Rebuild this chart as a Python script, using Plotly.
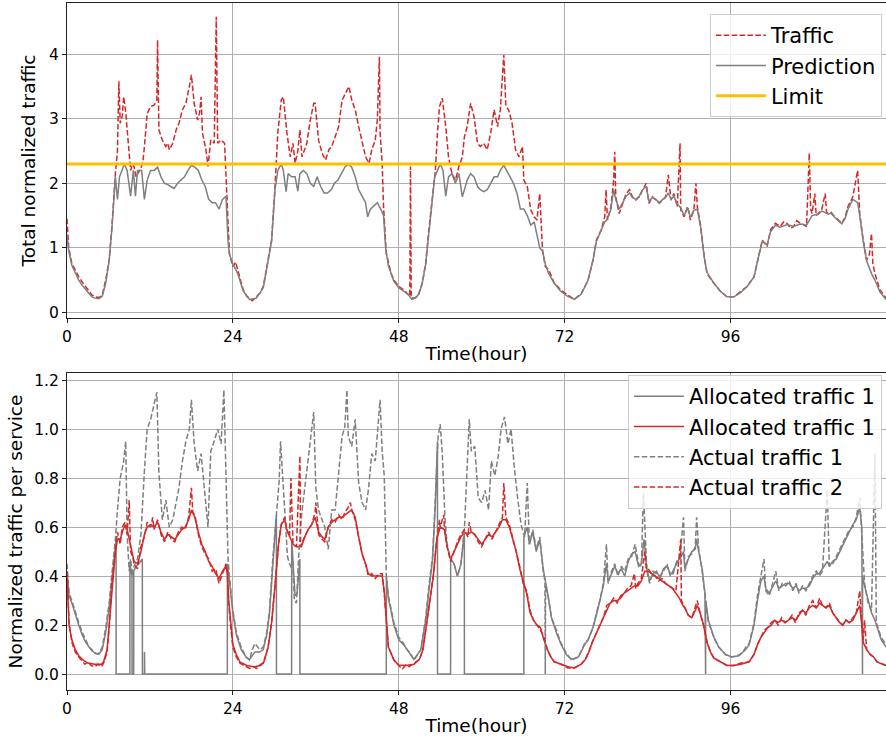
import plotly.graph_objects as go

# ---------------- data (hour, value) ----------------
traffic = [
    (0.0, 1.45), (0.25, 1.0), (0.7, 0.76), (1.2, 0.65), (1.7, 0.55), (2.2, 0.47), (2.7, 0.40), (3.2, 0.32),
    (3.6, 0.27), (4.1, 0.24), (4.6, 0.23), (5.1, 0.27), (5.6, 0.50), (6.1, 0.81), (6.5, 1.33), (7.0, 2.15),
    (7.3, 2.5), (7.5, 3.58), (7.7, 2.93), (8.0, 3.05), (8.2, 3.34), (8.5, 3.1), (8.8, 2.7), (9.0, 2.4),
    (9.2, 2.2), (9.5, 2.3), (9.7, 2.26), (10.0, 2.1), (10.2, 2.15), (10.5, 2.2), (10.7, 2.23), (11.0, 2.35),
    (11.2, 2.57), (11.6, 3.08), (12.1, 3.19), (12.6, 3.21), (13.0, 3.29), (13.1, 4.22), (13.3, 2.83),
    (13.8, 2.67), (14.3, 2.57), (14.6, 2.62), (14.8, 2.52), (15.1, 2.58), (15.3, 2.62), (15.8, 2.83),
    (16.2, 2.93), (16.7, 3.14), (17.2, 3.24), (17.7, 3.5), (18.0, 3.68), (18.4, 3.24), (18.9, 2.98),
    (19.2, 3.1), (19.4, 3.34), (19.6, 2.78), (20.1, 2.52), (20.4, 2.26), (20.6, 2.5), (20.8, 2.67),
    (21.3, 2.62), (21.6, 4.58), (21.8, 2.62), (22.3, 2.67), (22.8, 2.62), (23.0, 2.15), (23.3, 1.22),
    (23.5, 0.91), (24.0, 0.71), (24.4, 0.78), (24.7, 0.66), (25.1, 0.5), (25.5, 0.35), (26.0, 0.25),
    (26.4, 0.22), (26.8, 0.18), (27.4, 0.24), (27.9, 0.3), (28.4, 0.40), (28.8, 0.66), (29.2, 0.85),
    (29.6, 1.12), (30.1, 1.95), (30.5, 2.78), (31.0, 3.29), (31.3, 3.34), (31.8, 2.8), (32.3, 2.41),
    (32.7, 2.62), (33.0, 2.31), (33.4, 2.5), (33.7, 2.83), (34.0, 2.41), (34.4, 2.55), (34.7, 2.62),
    (35.2, 2.98), (35.7, 3.24), (35.9, 3.24), (36.4, 2.67), (36.9, 2.47), (37.4, 2.36), (37.9, 2.52),
    (38.3, 2.57), (38.8, 2.72), (39.3, 2.88), (39.8, 3.29), (40.3, 3.4), (40.8, 3.5), (41.2, 3.29),
    (41.7, 3.14), (42.2, 2.88), (42.7, 2.62), (43.2, 2.41), (43.7, 2.31), (44.1, 2.52), (44.6, 2.67),
    (44.9, 2.98), (45.2, 3.96), (45.3, 2.78), (45.6, 2.31), (45.8, 1.64), (46.2, 0.91), (46.5, 0.76),
    (46.9, 0.6), (47.3, 0.50), (48.0, 0.40), (48.7, 0.35), (49.4, 0.27), (49.6, 0.25), (49.7, 2.26),
    (49.8, 0.22), (50.4, 0.22), (50.9, 0.29), (51.4, 0.45), (51.9, 0.76), (52.3, 1.22), (52.8, 1.74),
    (53.3, 2.2), (53.6, 2.78), (53.9, 3.19), (54.3, 3.32), (54.8, 2.88), (55.2, 2.41), (55.7, 2.15),
    (56.2, 2.05), (56.7, 2.26), (57.2, 2.41), (57.5, 2.72), (57.9, 2.88), (58.4, 3.24), (58.9, 3.03),
    (59.4, 2.62), (59.8, 2.57), (60.3, 2.62), (60.8, 2.52), (61.3, 2.78), (61.8, 3.14), (62.3, 2.88),
    (62.7, 3.14), (63.2, 3.99), (63.5, 3.19), (63.9, 3.14), (64.4, 2.93), (64.9, 2.52), (65.4, 2.41),
    (65.9, 2.57), (66.1, 2.05), (66.6, 1.95), (67.1, 1.59), (67.6, 1.48), (68.0, 1.43), (68.4, 1.84),
    (68.8, 0.97), (69.2, 0.71), (69.7, 0.66), (70.1, 0.55), (70.5, 0.45), (71.0, 0.4), (71.4, 0.35),
    (72.4, 0.27), (73.4, 0.2), (74.4, 0.29), (75.4, 0.5), (76.1, 0.81), (76.6, 1.12), (77.3, 1.28),
    (77.8, 1.48), (78.0, 1.9), (78.2, 1.43), (78.7, 1.64), (79.1, 2.05), (79.25, 2.49), (79.4, 1.79),
    (79.9, 1.53), (80.4, 1.69), (80.9, 1.84), (81.4, 1.9), (81.8, 1.79), (82.3, 1.74), (82.8, 1.79),
    (83.3, 1.9), (83.8, 2.0), (84.2, 1.69), (84.7, 1.79), (85.2, 1.74), (85.7, 1.69), (86.2, 1.74),
    (86.6, 1.79), (87.0, 2.13), (87.4, 1.74), (87.8, 1.84), (88.3, 1.64), (88.7, 2.62), (88.8, 1.59),
    (89.3, 1.48), (89.8, 1.64), (90.2, 1.43), (90.7, 1.59), (91.0, 2.0), (91.2, 1.64), (91.7, 1.33),
    (92.2, 0.86), (92.6, 0.6), (93.1, 0.52), (93.6, 0.45), (94.6, 0.32), (95.5, 0.24), (96.5, 0.24),
    (97.4, 0.32), (98.4, 0.4), (99.4, 0.55), (100.1, 0.91), (100.6, 1.12), (101.3, 1.02), (101.8, 1.28),
    (102.5, 1.38), (103.2, 1.33), (103.7, 1.4), (104.2, 1.38), (104.7, 1.3), (105.1, 1.33), (105.6, 1.42),
    (106.1, 1.38), (106.6, 1.36), (107.0, 1.33), (107.4, 2.47), (107.6, 1.6), (107.8, 1.53), (108.2, 1.84),
    (108.4, 1.5), (108.7, 1.53), (109.2, 1.59), (109.7, 1.84), (109.9, 1.55), (110.2, 1.53), (110.6, 1.53),
    (111.1, 1.48), (111.6, 1.43), (112.1, 1.38), (112.6, 1.48), (113.0, 1.64), (113.7, 1.79), (114.4, 2.2),
    (114.7, 1.53), (115.2, 1.12), (115.7, 0.81), (116.1, 0.9), (116.4, 1.22), (116.6, 0.75), (116.9, 0.6),
    (117.6, 0.35), (118.5, 0.22),
]

prediction = [
    (0.0, 1.2), (0.25, 0.95), (0.7, 0.73), (1.2, 0.6), (1.7, 0.5), (2.2, 0.42), (2.7, 0.35), (3.2, 0.28),
    (3.6, 0.24), (4.1, 0.22), (4.6, 0.21), (5.1, 0.25), (5.6, 0.45), (6.1, 0.8), (6.5, 1.3), (7.0, 2.1),
    (7.3, 1.75), (7.6, 2.1), (8.0, 2.2), (8.3, 2.3), (8.7, 2.2), (9.0, 2.0), (9.2, 1.8), (9.6, 2.2),
    (9.9, 1.8), (10.2, 2.2), (10.8, 2.2), (11.2, 1.75), (11.6, 2.05), (12.1, 2.2), (12.6, 2.2), (13.1, 2.25),
    (13.6, 2.1), (14.1, 2.0), (14.6, 1.98), (15.0, 1.95), (15.5, 1.92), (16.0, 2.0), (16.5, 2.05),
    (17.0, 2.1), (17.5, 2.2), (18.0, 2.28), (18.5, 2.25), (19.0, 2.2), (19.5, 2.05), (20.0, 1.95),
    (20.5, 1.75), (21.0, 1.7), (21.5, 1.7), (22.0, 1.6), (22.5, 1.75), (23.0, 1.8), (23.3, 1.1),
    (23.5, 0.9), (24.0, 0.75), (24.7, 0.6), (25.5, 0.33), (26.4, 0.2), (27.4, 0.22), (28.4, 0.38),
    (28.8, 0.62), (29.6, 1.1), (30.1, 1.9), (30.5, 2.2), (31.0, 2.3), (31.3, 2.2), (31.7, 1.87),
    (32.0, 2.15), (32.5, 2.1), (33.0, 2.1), (33.4, 1.88), (33.7, 2.15), (34.2, 2.2), (34.7, 2.15),
    (35.2, 2.0), (35.7, 1.95), (36.2, 2.1), (36.7, 1.95), (37.2, 1.85), (37.7, 1.85), (38.2, 1.9),
    (38.7, 2.0), (39.2, 2.05), (39.7, 2.15), (40.2, 2.25), (40.7, 2.3), (41.2, 2.25), (41.7, 2.1),
    (42.2, 1.9), (42.7, 1.8), (43.2, 1.7), (43.5, 1.48), (43.9, 1.6), (44.4, 1.65), (44.9, 1.7),
    (45.4, 1.6), (45.8, 1.5), (46.1, 1.0), (46.5, 0.72), (47.3, 0.48), (48.0, 0.38), (48.7, 0.33),
    (49.4, 0.27), (49.9, 0.2), (50.4, 0.22), (50.9, 0.28), (51.4, 0.45), (51.9, 0.75), (52.3, 1.2),
    (52.8, 1.7), (53.2, 2.1), (53.6, 2.2), (54.0, 2.3), (54.4, 2.2), (54.8, 1.8), (55.2, 2.1),
    (55.7, 2.15), (56.2, 2.0), (56.7, 2.15), (57.2, 1.79), (57.5, 1.9), (57.9, 2.05), (58.4, 2.15),
    (58.9, 2.1), (59.4, 1.95), (59.8, 1.9), (60.3, 1.87), (60.8, 1.9), (61.3, 2.0), (61.8, 2.1),
    (62.3, 2.1), (62.7, 2.2), (63.2, 2.28), (63.6, 2.2), (64.1, 2.1), (64.6, 2.0), (65.1, 1.85),
    (65.6, 1.6), (66.1, 1.6), (66.6, 1.5), (67.1, 1.35), (67.6, 1.4), (68.0, 1.2), (68.4, 1.0),
    (68.8, 0.95), (69.2, 0.75), (69.7, 0.6), (70.5, 0.45), (71.4, 0.33), (72.4, 0.25), (73.4, 0.2),
    (74.4, 0.28), (75.4, 0.5), (76.1, 0.8), (76.6, 1.1), (77.3, 1.27), (77.8, 1.4), (78.2, 1.45),
    (78.7, 1.6), (79.1, 1.9), (79.4, 1.75), (79.9, 1.6), (80.4, 1.7), (80.9, 1.8), (81.4, 1.85),
    (81.8, 1.78), (82.3, 1.75), (82.8, 1.8), (83.3, 1.9), (83.8, 1.95), (84.2, 1.72), (84.7, 1.78),
    (85.2, 1.75), (85.7, 1.7), (86.2, 1.75), (86.6, 1.78), (87.0, 1.85), (87.4, 1.75), (87.8, 1.8),
    (88.3, 1.68), (88.8, 1.62), (89.3, 1.5), (89.8, 1.62), (90.2, 1.47), (90.7, 1.58), (91.2, 1.6),
    (91.7, 1.3), (92.2, 0.85), (92.6, 0.62), (93.6, 0.45), (94.6, 0.32), (95.5, 0.24), (96.5, 0.24),
    (97.4, 0.3), (98.4, 0.4), (99.4, 0.55), (100.1, 0.88), (100.6, 1.1), (101.3, 1.05), (101.8, 1.25),
    (102.5, 1.35), (103.2, 1.32), (104.2, 1.36), (105.1, 1.33), (106.1, 1.37), (107.0, 1.35), (107.8, 1.5),
    (108.7, 1.52), (109.2, 1.57), (109.7, 1.55), (110.2, 1.52), (110.6, 1.55), (111.1, 1.47), (111.6, 1.42),
    (112.1, 1.37), (112.6, 1.46), (113.0, 1.6), (113.7, 1.75), (114.4, 1.7), (114.7, 1.5), (115.2, 1.1),
    (115.7, 0.8), (116.4, 0.6), (116.9, 0.5), (117.6, 0.32), (118.5, 0.2),
]

LIMIT = 2.3

allocated_1 = [
    (0.0, 0.42), (0.3, 0.32), (0.7, 0.29), (1.2, 0.24), (1.7, 0.2), (2.2, 0.16), (2.7, 0.13), (3.2, 0.11),
    (3.6, 0.095), (4.1, 0.085), (4.6, 0.08), (5.1, 0.1), (5.6, 0.17), (6.1, 0.27), (6.5, 0.38), (7.0, 0.52),
    (7.1, 0.55), (7.11, 0.0), (9.1, 0.0), (9.11, 0.45), (9.4, 0.4), (9.41, 0.0), (9.65, 0.0), (9.66, 0.42),
    (10.0, 0.44), (10.4, 0.45), (10.9, 0.47), (10.91, 0.0), (11.2, 0.0), (11.21, 0.09), (11.25, 0.0),
    (23.2, 0.0), (23.21, 0.45), (23.5, 0.38), (24.0, 0.25), (24.5, 0.16), (25.2, 0.1), (25.9, 0.07),
    (26.4, 0.06), (27.2, 0.09), (27.9, 0.09), (28.4, 0.1), (28.9, 0.16), (29.3, 0.25), (29.8, 0.45),
    (30.3, 0.65), (30.31, 0.0), (32.5, 0.0), (32.51, 0.55), (32.7, 0.45), (33.0, 0.32), (33.3, 0.33),
    (33.69, 0.47), (33.7, 0.0), (46.2, 0.0), (46.21, 0.4), (46.5, 0.31), (47.3, 0.2), (48.0, 0.14),
    (48.7, 0.12), (49.2, 0.1), (49.7, 0.08), (50.2, 0.06), (51.2, 0.1), (51.9, 0.22), (52.4, 0.35),
    (52.9, 0.47), (53.3, 0.7), (53.6, 0.95), (53.61, 0.0), (55.5, 0.0), (55.51, 0.47), (56.0, 0.45),
    (56.5, 0.4), (57.0, 0.45), (57.49, 0.58), (57.5, 0.0), (66.1, 0.0), (66.11, 0.56), (66.6, 0.6),
    (66.9, 0.53), (67.4, 0.58), (67.9, 0.5), (68.4, 0.55), (68.9, 0.43), (69.6, 0.32), (70.1, 0.23),
    (70.8, 0.17), (71.5, 0.12), (72.25, 0.08), (73.0, 0.06), (74.0, 0.07), (74.9, 0.12), (75.4, 0.14),
    (76.1, 0.19), (76.6, 0.24), (77.1, 0.3), (77.6, 0.36), (78.05, 0.45), (78.3, 0.38), (78.8, 0.41),
    (79.25, 0.44), (79.7, 0.41), (80.2, 0.43), (80.7, 0.4), (81.2, 0.46), (81.7, 0.49), (82.2, 0.5),
    (82.7, 0.44), (83.1, 0.45), (83.5, 0.55), (83.9, 0.43), (84.3, 0.38), (84.8, 0.41), (85.3, 0.42),
    (85.8, 0.39), (86.3, 0.43), (86.8, 0.44), (87.3, 0.41), (87.7, 0.41), (88.2, 0.46), (88.7, 0.47),
    (89.2, 0.5), (89.4, 0.43), (89.9, 0.47), (90.4, 0.5), (90.9, 0.51), (91.1, 0.55), (91.4, 0.5),
    (91.9, 0.43), (92.3, 0.33), (92.31, 0.0), (92.4, 0.0), (92.41, 0.3), (92.8, 0.22), (93.6, 0.15),
    (94.3, 0.11), (95.3, 0.08), (96.2, 0.07), (97.2, 0.075), (98.2, 0.1), (98.7, 0.12), (99.4, 0.2),
    (99.9, 0.3), (100.4, 0.38), (100.85, 0.4), (101.1, 0.35), (101.6, 0.33), (102.1, 0.36), (102.55, 0.38),
    (103.0, 0.35), (103.5, 0.36), (104.0, 0.37), (104.5, 0.37), (105.0, 0.35), (105.5, 0.36), (105.9, 0.34),
    (106.4, 0.35), (106.9, 0.35), (107.4, 0.36), (107.9, 0.39), (108.4, 0.41), (108.85, 0.41), (109.3, 0.43),
    (110.0, 0.46), (110.3, 0.44), (110.8, 0.46), (111.3, 0.47), (111.8, 0.5), (112.25, 0.52), (112.7, 0.55),
    (113.2, 0.58), (113.7, 0.61), (114.2, 0.63), (114.7, 0.68), (115.0, 0.6), (115.01, 0.0), (115.1, 0.0),
    (115.11, 0.4), (115.4, 0.36), (115.9, 0.3), (116.4, 0.25), (116.9, 0.22), (117.1, 0.2), (117.8, 0.14),
    (118.5, 0.11),
]

allocated_2 = [
    (0.0, 0.4), (0.3, 0.2), (0.7, 0.14), (1.2, 0.1), (1.7, 0.075), (2.2, 0.06), (3.0, 0.045), (4.0, 0.04),
    (5.0, 0.04), (5.3, 0.05), (5.8, 0.1), (6.1, 0.2), (6.5, 0.35), (7.0, 0.5), (7.3, 0.55), (7.7, 0.55),
    (8.0, 0.58), (8.4, 0.61), (8.7, 0.59), (9.2, 0.52), (9.7, 0.46), (10.2, 0.45), (10.7, 0.5), (11.2, 0.57),
    (11.6, 0.6), (12.1, 0.61), (12.6, 0.6), (13.1, 0.62), (13.6, 0.58), (14.1, 0.55), (14.6, 0.57),
    (15.1, 0.56), (15.6, 0.55), (16.1, 0.57), (16.6, 0.59), (17.1, 0.6), (17.6, 0.63), (18.0, 0.67),
    (18.5, 0.64), (19.0, 0.58), (19.5, 0.53), (20.0, 0.5), (20.5, 0.46), (21.0, 0.44), (21.5, 0.41),
    (22.0, 0.39), (22.5, 0.42), (23.0, 0.44), (23.2, 0.42), (23.4, 0.3), (23.7, 0.2), (24.0, 0.12),
    (24.5, 0.08), (25.0, 0.05), (26.0, 0.035), (27.0, 0.03), (28.0, 0.035), (28.5, 0.05), (29.1, 0.11),
    (29.6, 0.21), (30.1, 0.36), (30.6, 0.53), (31.0, 0.61), (31.5, 0.63), (31.8, 0.59), (32.2, 0.56),
    (32.7, 0.53), (33.2, 0.52), (33.9, 0.52), (34.4, 0.56), (34.9, 0.59), (35.4, 0.61), (35.9, 0.64),
    (36.4, 0.58), (36.9, 0.56), (37.3, 0.55), (37.8, 0.6), (38.3, 0.62), (38.8, 0.63), (39.3, 0.64),
    (39.8, 0.64), (40.2, 0.65), (40.7, 0.66), (41.2, 0.67), (41.7, 0.64), (42.2, 0.56), (42.7, 0.49),
    (43.2, 0.45), (43.6, 0.41), (44.1, 0.4), (44.6, 0.4), (45.1, 0.4), (45.6, 0.4), (45.9, 0.34),
    (46.2, 0.21), (46.5, 0.11), (47.3, 0.057), (48.0, 0.037), (49.0, 0.035), (50.2, 0.04), (51.0, 0.06),
    (51.5, 0.1), (52.0, 0.2), (52.5, 0.3), (53.0, 0.4), (53.5, 0.55), (54.0, 0.6), (54.6, 0.59),
    (55.0, 0.52), (55.5, 0.47), (56.0, 0.5), (56.5, 0.53), (57.0, 0.56), (57.5, 0.58), (58.0, 0.57),
    (58.5, 0.58), (59.0, 0.57), (59.5, 0.55), (60.0, 0.53), (60.5, 0.55), (61.0, 0.57), (61.5, 0.56),
    (62.0, 0.58), (62.5, 0.6), (63.0, 0.63), (63.5, 0.63), (64.0, 0.6), (64.5, 0.55), (65.0, 0.5),
    (65.5, 0.43), (66.0, 0.38), (66.5, 0.33), (67.0, 0.25), (67.5, 0.22), (68.0, 0.2), (68.5, 0.19),
    (69.0, 0.14), (69.5, 0.1), (70.0, 0.07), (70.5, 0.05), (71.5, 0.04), (72.5, 0.03), (73.4, 0.025),
    (74.4, 0.04), (75.0, 0.06), (75.5, 0.09), (76.0, 0.13), (76.6, 0.17), (77.1, 0.2), (77.6, 0.23),
    (78.1, 0.26), (78.6, 0.29), (79.1, 0.3), (79.6, 0.3), (80.1, 0.31), (80.6, 0.33), (81.1, 0.34),
    (81.6, 0.35), (82.1, 0.36), (82.6, 0.36), (83.1, 0.38), (83.6, 0.42), (84.1, 0.42), (84.6, 0.41),
    (85.1, 0.4), (85.6, 0.39), (86.1, 0.38), (86.6, 0.37), (87.1, 0.36), (87.6, 0.35), (88.1, 0.33),
    (88.6, 0.31), (89.1, 0.28), (89.4, 0.27), (89.9, 0.24), (90.4, 0.23), (90.9, 0.26), (91.2, 0.28),
    (91.6, 0.25), (92.1, 0.2), (92.6, 0.13), (93.1, 0.09), (93.6, 0.065), (94.5, 0.05), (95.5, 0.035),
    (96.5, 0.035), (97.5, 0.04), (98.7, 0.05), (99.4, 0.08), (99.9, 0.12), (100.4, 0.15), (100.9, 0.17),
    (101.4, 0.19), (101.9, 0.2), (102.4, 0.22), (102.9, 0.21), (103.4, 0.22), (103.9, 0.21), (104.4, 0.22),
    (104.9, 0.23), (105.4, 0.22), (105.9, 0.24), (106.4, 0.26), (106.9, 0.25), (107.4, 0.27), (107.9, 0.28),
    (108.4, 0.27), (108.9, 0.29), (109.3, 0.28), (109.8, 0.27), (110.3, 0.28), (110.8, 0.25), (111.3, 0.23),
    (111.8, 0.21), (112.25, 0.2), (112.7, 0.22), (113.2, 0.21), (113.7, 0.22), (114.2, 0.25), (114.7, 0.28),
    (115.0, 0.2), (115.2, 0.13), (115.7, 0.1), (116.2, 0.08), (116.7, 0.07), (117.2, 0.05), (118.5, 0.035),
]

actual_1 = [
    (0.0, 0.45), (0.3, 0.33), (0.7, 0.30), (1.2, 0.25), (1.7, 0.21), (2.2, 0.17), (2.7, 0.14), (3.2, 0.11),
    (3.6, 0.10), (4.1, 0.084), (4.6, 0.084), (5.1, 0.11), (5.6, 0.19), (6.1, 0.29), (6.5, 0.41), (7.0, 0.55),
    (7.3, 0.67), (7.7, 0.8), (8.0, 0.84), (8.2, 0.87), (8.5, 0.95), (8.7, 0.57), (9.0, 0.42), (9.2, 0.47),
    (9.5, 0.4), (9.7, 0.44), (10.2, 0.47), (10.7, 0.57), (11.2, 0.83), (11.6, 1.0), (12.1, 1.04),
    (12.6, 1.1), (13.0, 1.15), (13.3, 0.82), (13.8, 0.63), (14.3, 0.71), (14.8, 0.6), (15.3, 0.63),
    (15.8, 0.71), (16.2, 0.76), (16.7, 0.87), (17.2, 0.95), (17.7, 1.0), (18.0, 1.12), (18.4, 0.94),
    (18.9, 0.83), (19.4, 0.9), (19.9, 0.76), (20.4, 0.6), (20.8, 0.91), (21.3, 0.95), (21.8, 1.0),
    (22.3, 0.94), (22.7, 1.16), (22.9, 0.89), (23.0, 0.74), (23.3, 0.47), (23.5, 0.4), (24.0, 0.26),
    (24.5, 0.17), (25.2, 0.11), (25.9, 0.07), (26.4, 0.057), (26.8, 0.1), (27.2, 0.125), (27.9, 0.1),
    (28.4, 0.11), (28.9, 0.17), (29.3, 0.26), (29.8, 0.48), (30.3, 0.67), (30.7, 0.79), (30.9, 0.95),
    (31.2, 0.79), (31.5, 0.67), (31.9, 0.48), (32.2, 0.45), (32.7, 0.42), (32.9, 0.3), (33.2, 0.29),
    (33.5, 0.47), (33.9, 0.64), (34.4, 0.76), (34.9, 0.86), (35.4, 0.98), (35.7, 1.07), (36.0, 0.76),
    (36.4, 0.67), (36.9, 0.63), (37.3, 0.6), (37.8, 0.51), (38.3, 0.67), (38.8, 0.67), (39.3, 0.83),
    (39.8, 0.97), (40.2, 1.01), (40.5, 1.16), (40.7, 0.97), (41.2, 0.93), (41.7, 1.04), (42.2, 0.78),
    (42.7, 0.7), (43.2, 0.67), (43.6, 0.75), (44.1, 0.9), (44.6, 0.87), (45.1, 1.04), (45.3, 1.12),
    (45.6, 0.91), (45.9, 0.81), (46.2, 0.4), (46.5, 0.32), (47.3, 0.21), (48.0, 0.15), (48.7, 0.125),
    (49.2, 0.1), (49.7, 0.085), (50.2, 0.057), (51.2, 0.1), (51.9, 0.23), (52.4, 0.37), (52.9, 0.48),
    (53.3, 0.72), (53.7, 0.97), (54.0, 1.02), (54.3, 0.9), (54.7, 0.63), (55.0, 0.53), (55.5, 0.47),
    (56.0, 0.45), (56.5, 0.4), (57.0, 0.45), (57.5, 0.59), (57.85, 0.83), (58.2, 1.04), (58.5, 0.91),
    (59.0, 0.93), (59.5, 0.72), (60.0, 0.7), (60.5, 0.75), (61.0, 0.67), (61.4, 0.87), (61.9, 0.81),
    (62.4, 0.89), (62.8, 1.0), (63.3, 1.05), (63.8, 0.94), (64.25, 1.0), (64.7, 0.85), (65.2, 0.72),
    (65.7, 0.61), (66.2, 0.56), (66.6, 0.78), (66.9, 0.53), (67.4, 0.59), (67.9, 0.51), (68.4, 0.56),
    (68.9, 0.42), (69.15, 0.38), (69.2, 0.0), (69.25, 0.36), (69.6, 0.32), (70.1, 0.23), (70.8, 0.18),
    (71.5, 0.125), (72.25, 0.085), (73.0, 0.057), (74.0, 0.07), (74.9, 0.125), (75.4, 0.14), (76.1, 0.19),
    (76.6, 0.25), (77.1, 0.3), (77.6, 0.37), (78.05, 0.53), (78.3, 0.37), (78.8, 0.42), (79.25, 0.45),
    (79.7, 0.4), (80.2, 0.44), (80.7, 0.42), (81.2, 0.47), (81.7, 0.48), (82.2, 0.53), (82.7, 0.45),
    (83.1, 0.44), (83.4, 0.74), (83.9, 0.42), (84.3, 0.37), (84.8, 0.42), (85.3, 0.41), (85.8, 0.4),
    (86.3, 0.42), (86.8, 0.45), (87.3, 0.4), (87.7, 0.42), (88.2, 0.45), (88.7, 0.48), (89.2, 0.64),
    (89.4, 0.42), (89.9, 0.48), (90.4, 0.49), (90.9, 0.52), (91.1, 0.64), (91.4, 0.51), (91.9, 0.42),
    (92.35, 0.32), (92.8, 0.21), (93.6, 0.15), (94.3, 0.11), (95.3, 0.078), (96.2, 0.07), (97.2, 0.078),
    (97.7, 0.085), (98.2, 0.11), (98.7, 0.125), (99.4, 0.21), (99.9, 0.32), (100.4, 0.4), (100.85, 0.47),
    (101.1, 0.34), (101.6, 0.32), (102.1, 0.37), (102.55, 0.42), (103.0, 0.34), (103.5, 0.37), (104.0, 0.36),
    (104.5, 0.38), (105.0, 0.34), (105.5, 0.37), (105.9, 0.33), (106.4, 0.36), (106.9, 0.34), (107.4, 0.37),
    (107.9, 0.4), (108.4, 0.42), (108.85, 0.4), (109.3, 0.42), (110.0, 0.75), (110.3, 0.44), (110.8, 0.45),
    (111.3, 0.48), (111.8, 0.51), (112.25, 0.53), (112.7, 0.56), (113.2, 0.59), (113.7, 0.6), (114.2, 0.64),
    (114.7, 0.72), (115.05, 0.56), (115.4, 0.37), (115.9, 0.29), (116.4, 0.26), (116.9, 0.9), (117.1, 0.21),
    (117.8, 0.15), (118.5, 0.12),
]

actual_2 = [
    (0.0, 0.42), (0.3, 0.21), (0.7, 0.13), (1.2, 0.09), (1.7, 0.07), (2.2, 0.055), (2.6, 0.04), (3.0, 0.05),
    (3.5, 0.035), (4.0, 0.03), (4.5, 0.04), (5.0, 0.03), (5.3, 0.045), (5.8, 0.09), (6.1, 0.19), (6.5, 0.37),
    (7.0, 0.52), (7.3, 0.58), (7.7, 0.53), (8.0, 0.6), (8.4, 0.62), (8.7, 0.57), (9.0, 0.71), (9.2, 0.5),
    (9.5, 0.48), (9.7, 0.45), (10.2, 0.43), (10.7, 0.52), (11.2, 0.56), (11.6, 0.62), (12.1, 0.6),
    (12.4, 0.64), (12.6, 0.59), (13.1, 0.63), (13.6, 0.57), (14.1, 0.54), (14.6, 0.58), (15.1, 0.55),
    (15.6, 0.54), (16.1, 0.58), (16.6, 0.6), (17.1, 0.59), (17.6, 0.64), (18.0, 0.76), (18.2, 0.66),
    (18.5, 0.65), (19.0, 0.57), (19.5, 0.52), (20.0, 0.49), (20.5, 0.47), (21.0, 0.42), (21.5, 0.43),
    (22.0, 0.37), (22.5, 0.41), (23.0, 0.45), (23.2, 0.41), (23.4, 0.29), (23.7, 0.19), (24.0, 0.11),
    (24.5, 0.07), (25.0, 0.045), (25.5, 0.037), (26.0, 0.03), (26.4, 0.023), (27.0, 0.03), (27.4, 0.023),
    (28.0, 0.04), (28.4, 0.044), (29.1, 0.11), (29.6, 0.21), (30.1, 0.36), (30.6, 0.53), (31.0, 0.61),
    (31.5, 0.64), (31.8, 0.59), (32.2, 0.56), (32.4, 0.8), (32.6, 0.55), (32.7, 0.53), (33.2, 0.52),
    (33.7, 0.89), (33.8, 0.52), (33.9, 0.53), (34.4, 0.56), (34.9, 0.59), (35.4, 0.61), (35.9, 0.66),
    (36.0, 0.7), (36.4, 0.57), (36.9, 0.55), (37.3, 0.54), (37.8, 0.6), (38.3, 0.63), (38.8, 0.62),
    (39.3, 0.65), (39.8, 0.63), (40.2, 0.66), (40.7, 0.68), (41.0, 0.7), (41.2, 0.67), (41.7, 0.63),
    (42.2, 0.56), (42.7, 0.49), (43.2, 0.45), (43.6, 0.4), (44.1, 0.41), (44.6, 0.39), (45.1, 0.41),
    (45.6, 0.41), (45.9, 0.33), (46.2, 0.2), (46.5, 0.11), (47.3, 0.057), (48.0, 0.037), (48.5, 0.02),
    (49.0, 0.037), (49.5, 0.03), (50.2, 0.044), (51.0, 0.06), (51.5, 0.1), (52.0, 0.2), (52.5, 0.3),
    (53.0, 0.4), (53.5, 0.55), (53.9, 0.63), (54.0, 0.6), (54.5, 0.65), (54.6, 0.6), (55.0, 0.52),
    (55.5, 0.46), (56.0, 0.5), (56.5, 0.54), (57.0, 0.57), (57.5, 0.59), (58.0, 0.56), (58.2, 0.62),
    (58.5, 0.58), (59.0, 0.57), (59.5, 0.54), (60.0, 0.52), (60.5, 0.55), (61.0, 0.58), (61.5, 0.55),
    (62.0, 0.58), (62.5, 0.61), (63.0, 0.64), (63.2, 0.78), (63.5, 0.64), (64.0, 0.61), (64.5, 0.56),
    (65.0, 0.5), (65.5, 0.44), (66.0, 0.37), (66.5, 0.34), (67.0, 0.26), (67.5, 0.22), (68.0, 0.2),
    (68.5, 0.18), (69.0, 0.15), (69.5, 0.1), (70.0, 0.07), (70.5, 0.05), (71.5, 0.04), (72.5, 0.025),
    (73.4, 0.025), (74.4, 0.04), (75.0, 0.06), (75.5, 0.09), (76.0, 0.13), (76.6, 0.17), (77.1, 0.2),
    (77.6, 0.23), (78.1, 0.28), (78.6, 0.29), (79.1, 0.31), (79.6, 0.29), (80.1, 0.32), (80.6, 0.33),
    (81.1, 0.35), (81.6, 0.36), (82.1, 0.41), (82.3, 0.35), (82.6, 0.37), (83.1, 0.39), (83.6, 0.5),
    (83.8, 0.43), (84.1, 0.43), (84.6, 0.41), (85.1, 0.4), (85.6, 0.38), (86.1, 0.39), (86.6, 0.37),
    (87.1, 0.36), (87.6, 0.35), (88.1, 0.34), (88.8, 0.55), (88.9, 0.3), (89.4, 0.27), (89.9, 0.24),
    (90.4, 0.23), (90.9, 0.27), (91.2, 0.3), (91.6, 0.25), (92.1, 0.2), (92.6, 0.13), (93.1, 0.09),
    (93.6, 0.065), (94.5, 0.05), (95.5, 0.035), (96.5, 0.035), (97.5, 0.045), (98.7, 0.05), (99.4, 0.08),
    (99.9, 0.12), (100.4, 0.15), (100.9, 0.18), (101.4, 0.19), (101.9, 0.21), (102.4, 0.22), (102.9, 0.2),
    (103.4, 0.23), (103.9, 0.21), (104.4, 0.22), (104.9, 0.24), (105.4, 0.21), (105.9, 0.25), (106.4, 0.26),
    (106.9, 0.24), (107.4, 0.28), (107.9, 0.3), (108.4, 0.27), (108.9, 0.31), (109.3, 0.28), (109.8, 0.27),
    (110.3, 0.29), (110.8, 0.25), (111.3, 0.23), (111.8, 0.21), (112.25, 0.2), (112.7, 0.22), (113.2, 0.21),
    (113.7, 0.23), (114.2, 0.25), (114.7, 0.34), (114.8, 0.28), (115.0, 0.2), (115.2, 0.14), (115.4, 0.22),
    (115.7, 0.1), (116.2, 0.08), (116.7, 0.07), (117.2, 0.05), (118.5, 0.035),
]

X_TICKS = [0, 24, 48, 72, 96]
TOP_Y_TICKS = [0, 1, 2, 3, 4]
BOTTOM_Y_TICKS = [0.0, 0.2, 0.4, 0.6, 0.8, 1.0, 1.2]
X_MAX = 118.5

# ---------------- styling ----------------
RED = "#d62728"
GREY = "#7f7f7f"
GOLD = "#ffbf00"
FONT = "DejaVu Sans"
DASH = "5.5px,2.4px"


def xs(series):
    return [p[0] for p in series]


def ys(series):
    return [p[1] for p in series]


fig = go.Figure()

fig.add_trace(go.Scatter(x=xs(traffic), y=ys(traffic), mode="lines", name="Traffic",
                         line=dict(color=RED, width=1.5, dash=DASH),
                         xaxis="x", yaxis="y", legend="legend", legendgroup="a"))
fig.add_trace(go.Scatter(x=xs(prediction), y=ys(prediction), mode="lines", name="Prediction",
                         line=dict(color=GREY, width=1.5),
                         xaxis="x", yaxis="y", legend="legend", legendgroup="b"))
fig.add_trace(go.Scatter(x=[0, X_MAX], y=[LIMIT, LIMIT], mode="lines", name="Limit",
                         line=dict(color=GOLD, width=3),
                         xaxis="x", yaxis="y", legend="legend", legendgroup="c"))

fig.add_trace(go.Scatter(x=xs(allocated_1), y=ys(allocated_1), mode="lines", name="Allocated traffic 1",
                         line=dict(color=GREY, width=1.5),
                         xaxis="x2", yaxis="y2", legend="legend2", legendgroup="d"))
fig.add_trace(go.Scatter(x=xs(allocated_2), y=ys(allocated_2), mode="lines", name="Allocated traffic 1",
                         line=dict(color=RED, width=1.5),
                         xaxis="x2", yaxis="y2", legend="legend2", legendgroup="e"))
fig.add_trace(go.Scatter(x=xs(actual_1), y=ys(actual_1), mode="lines", name="Actual traffic 1",
                         line=dict(color=GREY, width=1.5, dash=DASH),
                         xaxis="x2", yaxis="y2", legend="legend2", legendgroup="f"))
fig.add_trace(go.Scatter(x=xs(actual_2), y=ys(actual_2), mode="lines", name="Actual traffic 2",
                         line=dict(color=RED, width=1.5, dash=DASH),
                         xaxis="x2", yaxis="y2", legend="legend2", legendgroup="g"))

axis_common = dict(showgrid=True, gridcolor="#b0b0b0", gridwidth=0.8, zeroline=False,
                   showline=True, mirror=True, linecolor="#222222", linewidth=1,
                   ticks="outside", ticklen=4, tickcolor="#222222",
                   tickfont=dict(family=FONT, size=15.5, color="black"))

TITLE_FONT = dict(family=FONT, size=18.5, color="black")

legend_common = dict(font=dict(family=FONT, size=21, color="black"),
                     bgcolor="rgba(255,255,255,0.8)", bordercolor="#cccccc", borderwidth=1,
                     xanchor="right", yanchor="top", tracegroupgap=0, itemwidth=50)

fig.update_layout(
    width=886, height=738,
    margin=dict(l=67, r=0, t=3, b=48),
    plot_bgcolor="white", paper_bgcolor="white",
    font=dict(family=FONT, size=15, color="black"),
    xaxis=dict(axis_common, domain=[0, 1], anchor="y", range=[0, X_MAX], tickvals=X_TICKS,
               title=dict(text="Time(hour)", font=TITLE_FONT, standoff=2)),
    yaxis=dict(axis_common, domain=[0.5415, 1], anchor="x", range=[-0.088, 4.795], tickvals=TOP_Y_TICKS,
               title=dict(text="Total normalized traffic", font=TITLE_FONT, standoff=8)),
    xaxis2=dict(axis_common, domain=[0, 1], anchor="y2", range=[0, X_MAX], tickvals=X_TICKS,
                title=dict(text="Time(hour)", font=TITLE_FONT, standoff=2)),
    yaxis2=dict(axis_common, domain=[0, 0.4614], anchor="x2", range=[-0.065, 1.229],
                tickvals=BOTTOM_Y_TICKS, tickformat=".1f",
                title=dict(text="Normalized traffic per service", font=TITLE_FONT, standoff=6)),
    legend=dict(legend_common, x=0.995, y=0.984),
    legend2=dict(legend_common, x=0.995, y=0.4585),
    showlegend=True,
)

fig.write_html("out.html")
